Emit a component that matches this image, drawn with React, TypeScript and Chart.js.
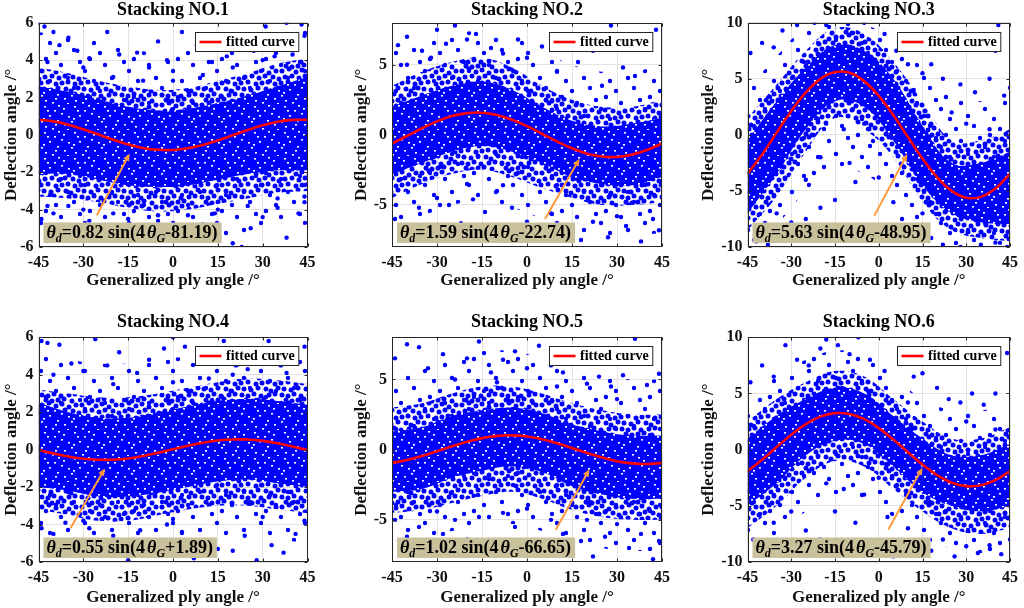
import React, { useEffect, useRef } from 'react';
import { Chart, registerables } from 'chart.js';

Chart.register(...registerables);

const FONT = '"Liberation Serif", "Times New Roman", serif';
Chart.defaults.font.family = FONT;

// ---------------- data ----------------
const TITLES = ['Stacking NO.1', 'Stacking NO.2', 'Stacking NO.3', 'Stacking NO.4', 'Stacking NO.5', 'Stacking NO.6'];
const X_TITLE = 'Generalized ply angle /°';
const Y_TITLE = 'Deflection angle /°';
const LEGEND_LABEL = 'fitted curve';
const X_TICKS = [-45, -30, -15, 0, 15, 30, 45];
const Y_TICKS_A = [-6, -4, -2, 0, 2, 4, 6];
const Y_TICKS_B = [-5, 0, 5];
const Y_TICKS_C = [-10, -5, 0, 5, 10];
const Y_RANGE = [[-6, 6], [-8, 8], [-10, 10], [-6, 6], [-8, 8], [-10, 10]];
const Y_TICKS = [Y_TICKS_A, Y_TICKS_B, Y_TICKS_C, Y_TICKS_A, Y_TICKS_B, Y_TICKS_C];

const FORMULA_AMP = ['0.82', '1.59', '5.63', '0.55', '1.02', '3.27'];
const FORMULA_PHASE = ['-81.19', '-22.74', '-48.95', '+1.89', '-66.65', '-45.79'];

// fitted curves
const CURVE_X = [-45, -40, -35, -30, -25, -20, -15, -10, -5, 0, 5, 10, 15, 20, 25, 30, 35, 40, 45];
const CURVE_1 = [0.81, 0.72, 0.54, 0.30, 0.02, -0.26, -0.51, -0.70, -0.80, -0.81, -0.72, -0.54, -0.30, -0.02, 0.26, 0.51, 0.70, 0.80, 0.81];
const CURVE_2 = [-0.62, -0.08, 0.47, 0.96, 1.34, 1.55, 1.58, 1.41, 1.08, 0.62, 0.08, -0.47, -0.96, -1.34, -1.55, -1.58, -1.41, -1.08, -0.62];
const CURVE_3 = [-3.48, -1.75, 0.20, 2.12, 3.78, 4.99, 5.60, 5.53, 4.79, 3.48, 1.75, -0.20, -2.12, -3.78, -4.99, -5.60, -5.53, -4.79, -3.48];
const CURVE_4 = [-0.02, -0.21, -0.37, -0.49, -0.54, -0.54, -0.47, -0.34, -0.17, 0.02, 0.21, 0.37, 0.49, 0.54, 0.54, 0.47, 0.34, 0.17, -0.02];
const CURVE_5 = [-0.94, -0.74, -0.46, -0.12, 0.24, 0.56, 0.82, 0.98, 1.02, 0.94, 0.74, 0.46, 0.12, -0.24, -0.56, -0.82, -0.98, -1.02, -0.94];
const CURVE_6 = [-1.92, -0.90, 0.23, 1.33, 2.27, 2.94, 3.25, 3.17, 2.71, 1.92, 0.90, -0.23, -1.33, -2.27, -2.94, -3.25, -3.17, -2.71, -1.92];
const CURVES = [CURVE_1, CURVE_2, CURVE_3, CURVE_4, CURVE_5, CURVE_6];

// envelopes of the scatter cloud: core = nearly solid, halo = dense dots, outer = sparse dots
const BAND_X = [-45, -35, -25, -15, -5, 5, 15, 25, 35, 45];
const CORE_UP_1 = [2.6, 2.3, 1.9, 1.5, 1.3, 1.4, 1.7, 2.1, 2.6, 3.1];
const CORE_LO_1 = [-2.1, -2.1, -2.4, -2.7, -2.8, -2.7, -2.4, -2.1, -1.9, -1.9];
const HALO_UP_1 = [3.6, 3.3, 2.9, 2.6, 2.4, 2.5, 2.9, 3.3, 3.8, 4.1];
const HALO_LO_1 = [-3.3, -3.4, -3.6, -3.9, -4.1, -4.0, -3.7, -3.4, -3.1, -3.0];
const OUTER_UP_1 = [5.5, 5.2, 5.0, 4.6, 4.4, 4.5, 4.8, 5.2, 5.6, 5.8];
const OUTER_LO_1 = [-5.0, -5.2, -5.4, -5.5, -5.6, -5.6, -5.5, -5.3, -5.0, -4.8];

const CORE_UP_2 = [2.0, 2.8, 3.5, 3.8, 3.2, 2.0, 1.0, 0.6, 0.8, 1.2];
const CORE_LO_2 = [-2.8, -2.0, -1.2, -0.8, -1.2, -2.0, -3.0, -3.5, -3.6, -3.0];
const HALO_UP_2 = [3.5, 4.5, 5.2, 5.5, 4.8, 3.5, 2.5, 2.0, 2.0, 2.5];
const HALO_LO_2 = [-4.5, -3.5, -2.8, -2.5, -3.0, -3.8, -4.5, -5.0, -5.0, -4.8];
const OUTER_UP_2 = [6.0, 6.8, 7.2, 7.4, 7.0, 6.0, 5.0, 4.5, 4.5, 5.0];
const OUTER_LO_2 = [-6.5, -5.8, -5.0, -4.8, -5.2, -6.0, -6.8, -7.2, -7.2, -7.0];

const CORE_UP_3 = [-0.5, 3.0, 6.0, 8.0, 7.5, 5.0, 0.8, -2.5, -2.5, -1.5];
const CORE_LO_3 = [-7.0, -3.5, 0.5, 3.0, 2.5, -0.5, -4.5, -7.0, -7.8, -8.0];
const HALO_UP_3 = [1.5, 4.5, 7.5, 9.5, 9.0, 6.5, 3.0, -0.5, -0.5, 0.5];
const HALO_LO_3 = [-8.5, -5.5, -1.5, 1.5, 0.5, -2.0, -6.0, -8.5, -9.2, -9.5];
const OUTER_UP_3 = [4.0, 7.0, 9.5, 9.8, 9.8, 8.5, 6.0, 3.5, 3.0, 3.5];
const OUTER_LO_3 = [-9.8, -8.0, -5.0, -3.0, -3.5, -5.5, -8.5, -9.8, -9.8, -9.8];

const CORE_UP_4 = [2.5, 2.0, 1.7, 1.7, 2.0, 2.3, 2.6, 2.7, 2.6, 2.4];
const CORE_LO_4 = [-2.0, -2.2, -2.5, -2.5, -2.3, -2.0, -1.7, -1.6, -1.8, -2.0];
const HALO_UP_4 = [3.2, 3.0, 2.8, 2.8, 3.0, 3.3, 3.6, 3.8, 3.7, 3.5];
const HALO_LO_4 = [-3.2, -3.5, -3.8, -3.8, -3.5, -3.2, -3.0, -3.0, -3.2, -3.4];
const OUTER_UP_4 = [5.0, 4.8, 4.6, 4.6, 4.8, 5.0, 5.3, 5.5, 5.4, 5.2];
const OUTER_LO_4 = [-4.8, -5.0, -5.3, -5.3, -5.0, -4.8, -4.6, -4.6, -4.8, -5.0];

const CORE_UP_5 = [1.3, 1.6, 2.4, 2.8, 3.0, 2.6, 1.8, 1.3, 1.0, 1.0];
const CORE_LO_5 = [-3.0, -2.8, -2.0, -1.5, -1.2, -1.6, -2.6, -3.2, -3.5, -3.5];
const HALO_UP_5 = [3.0, 3.3, 4.0, 4.5, 4.5, 4.0, 3.3, 2.8, 2.5, 2.5];
const HALO_LO_5 = [-4.5, -4.3, -3.8, -3.3, -3.0, -3.5, -4.3, -4.8, -5.0, -5.0];
const OUTER_UP_5 = [5.5, 5.8, 6.5, 7.0, 7.0, 6.5, 5.8, 5.3, 5.0, 5.0];
const OUTER_LO_5 = [-6.5, -6.3, -5.8, -5.5, -5.3, -5.8, -6.5, -7.0, -7.2, -7.2];

const CORE_UP_6 = [1.0, 3.0, 4.5, 5.5, 5.0, 3.0, 1.0, -0.5, -0.5, 0.5];
const CORE_LO_6 = [-5.0, -3.0, -0.5, 0.8, 0.5, -1.5, -3.8, -5.0, -5.5, -5.0];
const HALO_UP_6 = [2.5, 4.5, 6.0, 7.0, 6.5, 4.5, 2.5, 1.0, 1.0, 2.0];
const HALO_LO_6 = [-7.0, -5.0, -2.5, -1.0, -1.5, -3.5, -5.5, -7.0, -7.5, -7.0];
const OUTER_UP_6 = [4.5, 6.5, 8.0, 8.8, 8.5, 6.5, 4.5, 3.5, 3.5, 4.0];
const OUTER_LO_6 = [-8.8, -7.5, -5.5, -4.0, -4.5, -6.0, -7.8, -8.8, -9.2, -9.0];

const CORE_UP = [CORE_UP_1, CORE_UP_2, CORE_UP_3, CORE_UP_4, CORE_UP_5, CORE_UP_6];
const CORE_LO = [CORE_LO_1, CORE_LO_2, CORE_LO_3, CORE_LO_4, CORE_LO_5, CORE_LO_6];
const HALO_UP = [HALO_UP_1, HALO_UP_2, HALO_UP_3, HALO_UP_4, HALO_UP_5, HALO_UP_6];
const HALO_LO = [HALO_LO_1, HALO_LO_2, HALO_LO_3, HALO_LO_4, HALO_LO_5, HALO_LO_6];
const OUTER_UP = [OUTER_UP_1, OUTER_UP_2, OUTER_UP_3, OUTER_UP_4, OUTER_UP_5, OUTER_UP_6];
const OUTER_LO = [OUTER_LO_1, OUTER_LO_2, OUTER_LO_3, OUTER_LO_4, OUTER_LO_5, OUTER_LO_6];

// sparse scattered points outside the dense cloud
const OUT_1 = [[-45, 6], [-43, 5.8], [-40, 5.5], [-38, 4.8], [-35, 5.2], [-32, 4.5], [-28, 4.1], [-22, 5.5], [-18, 4.3], [-12, 4.4], [-8, 3.6], [-5, 5.0], [-2, 4.0], [3, 5.5], [8, 4.8], [12, 3.9], [18, 4.2], [22, 5.0], [27, 4.5], [31, 5.8], [34, 4.2], [38, 6.0], [40, 4.6], [43, 5.9], [44, 5.3], [-44, -4.5], [-40, -4.2], [-35, -3.8], [-33, -5.0], [-28, -4.6], [-22, -5.2], [-15, -4.5], [-10, -5.3], [-5, -4.6], [0, -5.0], [6, -5.5], [10, -4.8], [14, -4.2], [20, -5.8], [23, -6.0], [26, -5.0], [30, -4.4], [35, -3.9], [38, -5.5], [42, -4.2], [44, -3.6], [-42, 3.9], [-30, 3.6], [-20, 3.1], [-10, 2.9], [0, 2.9], [10, 3.2], [20, 3.6], [30, 4.0], [40, 4.3], [-42, -3.8], [-30, -4.0], [-20, -4.2], [-5, -4.3], [5, -4.3], [15, -4.0], [25, -3.8], [35, -3.4], [44, -3.3]];
const OUT_2 = [[-43, 6.4], [-40, 7.0], [-35, 6.0], [-30, 7.5], [-27, 6.5], [-24, 7.8], [-20, 6.8], [-17, 7.2], [-12, 6.2], [-8, 5.8], [-3, 6.8], [0, 5.5], [5, 6.3], [12, 7.0], [17, 5.2], [22, 6.0], [28, 7.8], [32, 4.8], [36, 4.2], [40, 6.5], [43, 7.5], [10, 4.5], [25, 3.5], [-40, 5.0], [-32, 5.5], [-44, -6.0], [-40, -7.2], [-36, -5.2], [-30, -6.8], [-26, -5.0], [-22, -6.3], [-18, -4.6], [-14, -5.5], [-10, -4.0], [-5, -5.2], [0, -6.2], [4, -7.0], [8, -5.6], [13, -6.8], [18, -7.5], [22, -6.2], [27, -7.3], [33, -6.5], [38, -7.6], [42, -6.0], [44, -6.8], [-30, -4.5], [-20, -3.5], [-8, -3.6], [30, -5.8]];
const OUT_3 = [[-44, 7.3], [-40, 8.2], [-36, 7.8], [-33, 9.3], [-28, 9.8], [-22, 10], [-18, 9.8], [-5, 10], [2, 9.0], [6, 7.5], [10, 6.3], [15, 5.5], [18, 6.3], [22, 5.0], [28, 4.5], [33, 3.8], [38, 5.0], [41, 9.8], [43, 3.5], [45, 4.2], [12, 4.0], [25, 2.0], [30, 1.0], [38, 0.5], [40, 7.5], [-35, -7.0], [-30, -7.8], [-25, -4.0], [-20, -6.5], [-15, -5.8], [-10, -2.5], [-8, -4.2], [-5, 1.0], [-3, -1.0], [0, -3.8], [-20, -2.0], [-25, -7.5], [-38, -9.8], [-42, -9.5], [5, -6.0], [8, -7.5], [12, -8.3], [18, -9.2], [22, -9.8], [28, -10], [35, -9.8], [40, -9.6], [44, -10], [15, -7.0], [-12, 0.5], [-18, 1.0]];
const OUT_4 = [[-44, 5.8], [-42, 5.7], [-38, 5.6], [-34, 4.6], [-30, 4.2], [-26, 5.9], [-22, 4.5], [-18, 5.2], [-12, 4.1], [-8, 4.8], [-3, 5.4], [0, 6.0], [4, 5.5], [9, 4.7], [12, 3.8], [17, 5.8], [21, 4.5], [25, 4.3], [29, 5.4], [32, 5.8], [36, 4.5], [40, 4.9], [44, 5.5], [-40, 4.0], [-20, 3.5], [0, 3.6], [20, 4.0], [38, 4.1], [-44, -4.2], [-40, -4.5], [-36, -3.9], [-32, -5.2], [-28, -4.2], [-24, -5.6], [-20, -4.6], [-15, -5.9], [-11, -4.3], [-6, -5.0], [-2, -4.0], [3, -4.4], [7, -5.8], [11, -4.9], [15, -5.3], [20, -5.4], [24, -4.6], [28, -5.9], [33, -5.1], [37, -5.5], [41, -4.5], [44, -3.8], [-30, -3.8], [0, -3.7], [30, -3.6]];
const OUT_5 = [[-44, 6.5], [-40, 7.5], [-36, 7.3], [-33, 5.8], [-28, 6.8], [-24, 5.0], [-20, 6.5], [-16, 7.7], [-12, 5.5], [-8, 6.4], [-4, 7.0], [0, 5.8], [4, 7.4], [8, 6.0], [12, 5.5], [16, 7.0], [20, 4.7], [24, 5.2], [28, 4.5], [32, 5.3], [36, 7.9], [40, 4.6], [44, 5.4], [-10, 4.8], [10, 4.5], [30, 3.6], [-44, -5.0], [-40, -6.2], [-36, -5.5], [-32, -7.5], [-28, -6.0], [-24, -5.0], [-20, -6.4], [-16, -4.8], [-12, -6.8], [-8, -4.5], [-4, -5.5], [0, -4.2], [4, -6.6], [8, -5.0], [12, -6.0], [18, -6.5], [22, -7.6], [26, -6.2], [30, -5.3], [34, -7.0], [38, -6.0], [42, -7.8], [44, -6.5], [-30, -4.4], [20, -5.0]];
const OUT_6 = [[-44, 6.0], [-40, 7.5], [-36, 6.5], [-32, 9.3], [-28, 8.0], [-24, 7.5], [-20, 9.0], [-18, 9.8], [-14, 9.3], [-10, 8.5], [-7, 10], [-3, 8.0], [2, 7.0], [7, 8.2], [12, 6.5], [15, 6.8], [20, 5.5], [24, 4.5], [28, 4.2], [32, 5.0], [36, 4.0], [40, 5.0], [44, 8.6], [10, 4.2], [30, 2.5], [40, 1.8], [-43, -8.0], [-40, -9.0], [-36, -6.5], [-30, -5.5], [-25, -7.2], [-20, -8.0], [-15, -5.5], [-12, -3.5], [-8, -6.5], [-5, -4.0], [0, -2.5], [-18, -3.0], [3, -6.0], [5, -9.5], [10, -7.0], [14, -8.3], [18, -9.0], [22, -8.0], [26, -9.5], [30, -8.6], [34, -9.2], [38, -8.5], [42, -9.3], [45, -8.0]];
const OUTLIERS = [OUT_1, OUT_2, OUT_3, OUT_4, OUT_5, OUT_6];

// annotation arrows (data coordinates): tail, tip
const ARROW_FROM = [[-25.5, -4.3], [6, -6.0], [-1.5, -7.2], [-34.3, -4.2], [9.6, -5.7], [3.3, -7.1]];
const ARROW_TO = [[-14.5, -1.0], [17.5, -1.7], [9.8, -1.7], [-22.8, -1.0], [20.8, -1.4], [15, -1.6]];

// ---------------- styles / layout ----------------
const BLUE = '#0000ff';
const RED = '#ff0000';
const INK = '#111111';
const FRAME = '#262626';
const GRID = '#e2e2e2';
const BOX_FILL = '#c9c09c';
const ARROW_COLOR = '#ff9a3c';

const LAYOUT = [
  { left: 0, top: 0, w: 340, h: 300, padTop: 22.7, padRight: 32.5, yW: 38.5, xH: 53, yTitlePad: 1.5, xTitlePad: 8.8, xTickPad: 6, titleOff: 12.7 },
  { left: 340, top: 0, w: 340, h: 300, padTop: 22.7, padRight: 18, yW: 52, xH: 53, yTitlePad: 11.5, xTitlePad: 8.8, xTickPad: 6, titleOff: 12.7 },
  { left: 680, top: 0, w: 344, h: 300, padTop: 22.7, padRight: 10.5, yW: 67.5, xH: 53, yTitlePad: 18.1, xTitlePad: 8.8, xTickPad: 6, titleOff: 12.7 },
  { left: 0, top: 300, w: 340, h: 308, padTop: 37.3, padRight: 32.5, yW: 38.5, xH: 46, yTitlePad: 1.5, xTitlePad: 0, xTickPad: 6, titleOff: 15 },
  { left: 340, top: 300, w: 340, h: 308, padTop: 37.3, padRight: 18, yW: 52, xH: 46, yTitlePad: 11.5, xTitlePad: 0, xTickPad: 6, titleOff: 15 },
  { left: 680, top: 300, w: 344, h: 308, padTop: 37.3, padRight: 10.5, yW: 67.5, xH: 46, yTitlePad: 18.1, xTitlePad: 0, xTickPad: 6, titleOff: 15 },
];

// texture tiles (pixel positions inside a repeating tile)
const CORE_TILE = [30, 26];
const CORE_SPECKS = [[3, 4], [14, 2], [24, 6], [8, 12], [19, 11], [27, 16], [4, 20], [15, 22], [22, 24], [11, 17], [1, 9], [17, 6], [25, 20], [7, 25], [28, 1], [13, 14]];
const HALO_TILE = [40, 34];
const HALO_DOTS = [
  [2, 3], [9, 1], [16, 4], [22, 2], [29, 5], [36, 3],
  [5, 9], [12, 8], [19, 10], [25, 8], [33, 9], [39, 11],
  [1, 15], [8, 14], [16, 16], [22, 15], [28, 14], [35, 16],
  [4, 21], [11, 22], [18, 20], [26, 21], [31, 23], [38, 20],
  [2, 27], [8, 28], [14, 26], [21, 28], [29, 27], [35, 26],
  [6, 32], [12, 33], [18, 32], [24, 31], [32, 33],
];
const OUTER_TILE = [44, 38];
const OUTER_DOTS = [[6, 5], [30, 12], [17, 27], [41, 33], [24, 2], [2, 21], [36, 24], [12, 15]];

function makeCorePattern(ctx: CanvasRenderingContext2D) {
  const [W, H] = CORE_TILE;
  const c = document.createElement('canvas');
  c.width = W; c.height = H;
  const g = c.getContext('2d')!;
  g.fillStyle = BLUE; g.fillRect(0, 0, W, H);
  g.fillStyle = '#ffffff';
  for (const [px, py] of CORE_SPECKS) g.fillRect(px, py, 2, 1.6);
  return ctx.createPattern(c, 'repeat')!;
}

function makeDotPattern(ctx: CanvasRenderingContext2D, tile: number[], dots: number[][], r: number) {
  const [W, H] = tile;
  const c = document.createElement('canvas');
  c.width = W; c.height = H;
  const g = c.getContext('2d')!;
  g.fillStyle = BLUE;
  for (const [px, py] of dots) {
    for (const dx of [-W, 0, W]) for (const dy of [-H, 0, H]) {
      g.beginPath(); g.arc(px + dx, py + dy, r, 0, Math.PI * 2); g.fill();
    }
  }
  return ctx.createPattern(c, 'repeat')!;
}

function Panel({ idx }: { idx: number }) {
  const ref = useRef<HTMLCanvasElement>(null);
  const L = LAYOUT[idx];

  useEffect(() => {
    const canvas = ref.current!;
    const ctx = canvas.getContext('2d')!;
    const yTicks = Y_TICKS[idx];

    const decor = {
      id: 'decor' + idx,
      afterDatasetsDraw(chart: any) {
        const c: CanvasRenderingContext2D = chart.ctx;
        const a = chart.chartArea;
        const xs = chart.scales.x, ys = chart.scales.y;
        c.save();
        // frame and inward ticks
        c.strokeStyle = FRAME; c.lineWidth = 1;
        const l = Math.round(a.left) + 0.5, t = Math.round(a.top) + 0.5;
        const r = Math.round(a.right) - 0.5, b = Math.round(a.bottom) - 0.5;
        c.strokeRect(l, t, r - l, b - t);
        c.beginPath();
        for (const v of X_TICKS) {
          const px = Math.round(xs.getPixelForValue(v)) + 0.5;
          c.moveTo(px, b); c.lineTo(px, b - 3);
          c.moveTo(px, t); c.lineTo(px, t + 3);
        }
        for (const v of yTicks) {
          const py = Math.round(ys.getPixelForValue(v)) + 0.5;
          c.moveTo(l, py); c.lineTo(l + 3, py);
          c.moveTo(r, py); c.lineTo(r - 3, py);
        }
        c.stroke();

        // title
        c.fillStyle = '#000';
        c.font = `bold 18px ${FONT}`;
        c.textAlign = 'center'; c.textBaseline = 'middle';
        c.fillText(TITLES[idx], (a.left + a.right) / 2, a.top - L.titleOff);

        // legend
        c.font = `bold 14px ${FONT}`;
        const tw = c.measureText(LEGEND_LABEL).width;
        const bw = 4 + 22 + 4.5 + tw + 4;
        const bh = 19;
        const bx = Math.round(a.right - 9.5 - bw) + 0.5;
        const by = Math.round(a.top + 9) + 0.5;
        c.fillStyle = '#ffffff'; c.fillRect(bx, by, bw, bh);
        c.strokeStyle = FRAME; c.lineWidth = 1; c.strokeRect(bx, by, bw, bh);
        c.strokeStyle = RED; c.lineWidth = 2.6;
        c.beginPath(); c.moveTo(bx + 4, by + bh / 2); c.lineTo(bx + 26, by + bh / 2); c.stroke();
        c.fillStyle = '#000'; c.textAlign = 'left'; c.textBaseline = 'middle';
        c.fillText(LEGEND_LABEL, bx + 30.5, by + bh / 2 + 0.5);

        // arrow
        const [fx, fy] = ARROW_FROM[idx];
        const [tx, ty] = ARROW_TO[idx];
        const x0 = xs.getPixelForValue(fx), y0 = ys.getPixelForValue(fy);
        const x1 = xs.getPixelForValue(tx), y1 = ys.getPixelForValue(ty);
        const ang = Math.atan2(y1 - y0, x1 - x0);
        const hl = 8, hw = 0.42;
        c.strokeStyle = ARROW_COLOR; c.fillStyle = ARROW_COLOR; c.lineWidth = 2;
        c.beginPath(); c.moveTo(x0, y0);
        c.lineTo(x1 - Math.cos(ang) * hl * 0.8, y1 - Math.sin(ang) * hl * 0.8); c.stroke();
        c.beginPath(); c.moveTo(x1, y1);
        c.lineTo(x1 - hl * Math.cos(ang - hw), y1 - hl * Math.sin(ang - hw));
        c.lineTo(x1 - hl * Math.cos(ang + hw), y1 - hl * Math.sin(ang + hw));
        c.closePath(); c.fill();

        // formula box
        const segs = [
          { t: 'θ', f: `italic bold 18px ${FONT}`, dy: 0, gap: 0 },
          { t: 'd', f: `italic bold 12px ${FONT}`, dy: 4, gap: 0 },
          { t: '=' + FORMULA_AMP[idx] + ' sin(4', f: `bold 18px ${FONT}`, dy: 0, gap: 2 },
          { t: 'θ', f: `italic bold 18px ${FONT}`, dy: 0, gap: 0 },
          { t: 'G', f: `italic bold 12px ${FONT}`, dy: 4, gap: 0 },
          { t: FORMULA_PHASE[idx] + ')', f: `bold 18px ${FONT}`, dy: 0, gap: 0 },
        ];
        let total = 0;
        const widths = segs.map((s) => { c.font = s.f; const w = c.measureText(s.t).width; total += w + s.gap; return w; });
        const fh = 20.5;
        const fxl = a.left + 5;
        const fyt = a.bottom - 4 - fh;
        c.fillStyle = BOX_FILL;
        c.fillRect(fxl, fyt, total + 7, fh);
        c.fillStyle = '#000'; c.textAlign = 'left'; c.textBaseline = 'alphabetic';
        let cx = fxl + 3;
        segs.forEach((s, i) => {
          c.font = s.f;
          c.fillText(s.t, cx, fyt + 15 + s.dy);
          cx += widths[i] + s.gap;
        });
        c.restore();
      },
    };

    const pts = (xsArr: number[], ysArr: number[]) => xsArr.map((v, i) => ({ x: v, y: ysArr[i] }));
    const lineBase = { pointRadius: 0, pointHoverRadius: 0, borderColor: 'transparent', borderWidth: 0, tension: 0.4 };

    const chart = new Chart(ctx, {
      type: 'line',
      data: {
        datasets: [
          { label: LEGEND_LABEL, data: pts(CURVE_X, CURVES[idx]), borderColor: RED, borderWidth: 2.6, pointRadius: 0, pointHoverRadius: 0, tension: 0.4, fill: false, order: 0 },
          { label: 'points', data: OUTLIERS[idx].map(([px, py]) => ({ x: px, y: py })), showLine: false, pointRadius: 2.2, pointHoverRadius: 0, pointBackgroundColor: BLUE, pointBorderColor: BLUE, pointBorderWidth: 0, borderColor: 'transparent', backgroundColor: BLUE, order: 1 },
          { ...lineBase, label: 'core', data: pts(BAND_X, CORE_UP[idx]), fill: 3, backgroundColor: makeCorePattern(ctx), order: 2 },
          { ...lineBase, label: 'coreLo', data: pts(BAND_X, CORE_LO[idx]), fill: false, order: 2 },
          { ...lineBase, label: 'halo', data: pts(BAND_X, HALO_UP[idx]), fill: 5, backgroundColor: makeDotPattern(ctx, HALO_TILE, HALO_DOTS, 2.5), order: 3 },
          { ...lineBase, label: 'haloLo', data: pts(BAND_X, HALO_LO[idx]), fill: false, order: 3 },
          { ...lineBase, label: 'outer', data: pts(BAND_X, OUTER_UP[idx]), fill: 7, backgroundColor: makeDotPattern(ctx, OUTER_TILE, OUTER_DOTS, 2.2), order: 4 },
          { ...lineBase, label: 'outerLo', data: pts(BAND_X, OUTER_LO[idx]), fill: false, order: 4 },
        ] as any,
      },
      options: {
        responsive: true,
        maintainAspectRatio: false,
        animation: false,
        events: [],
        layout: { padding: { top: L.padTop, right: L.padRight, left: 0, bottom: 0 } },
        plugins: { legend: { display: false }, title: { display: false }, tooltip: { enabled: false } },
        scales: {
          x: {
            type: 'linear', min: -45, max: 45,
            afterBuildTicks: (s: any) => { s.ticks = X_TICKS.map((v) => ({ value: v })); },
            afterFit: (s: any) => { s.height = L.xH; },
            ticks: { font: { family: FONT, size: 16, weight: 'bold' }, color: INK, padding: L.xTickPad, maxRotation: 0, autoSkip: false, callback: (v: any) => String(v) },
            grid: { color: GRID, drawTicks: false, lineWidth: 1 },
            border: { display: false },
            title: { display: true, text: X_TITLE, font: { family: FONT, size: 17, weight: 'bold' }, color: INK, padding: { top: 0, bottom: L.xTitlePad } },
          },
          y: {
            type: 'linear', min: Y_RANGE[idx][0], max: Y_RANGE[idx][1],
            afterBuildTicks: (s: any) => { s.ticks = yTicks.map((v) => ({ value: v })); },
            afterFit: (s: any) => { s.width = L.yW; },
            ticks: { font: { family: FONT, size: 16, weight: 'bold' }, color: INK, padding: 5, autoSkip: false, callback: (v: any) => String(v) },
            grid: { color: GRID, drawTicks: false, lineWidth: 1 },
            border: { display: false },
            title: { display: true, text: Y_TITLE, font: { family: FONT, size: 17, weight: 'bold' }, color: INK, padding: { top: L.yTitlePad, bottom: 0 } },
          },
        },
      } as any,
      plugins: [decor],
    });
    return () => chart.destroy();
  }, [idx]);

  return (
    <div style={{ position: 'absolute', left: L.left, top: L.top, width: L.w, height: L.h }}>
      <canvas ref={ref} />
    </div>
  );
}

export default function App() {
  return (
    <div style={{ position: 'fixed', left: 0, top: 0, width: 1024, height: 608, background: '#ffffff', overflow: 'hidden' }}>
      {[0, 1, 2, 3, 4, 5].map((i) => <Panel key={i} idx={i} />)}
    </div>
  );
}
